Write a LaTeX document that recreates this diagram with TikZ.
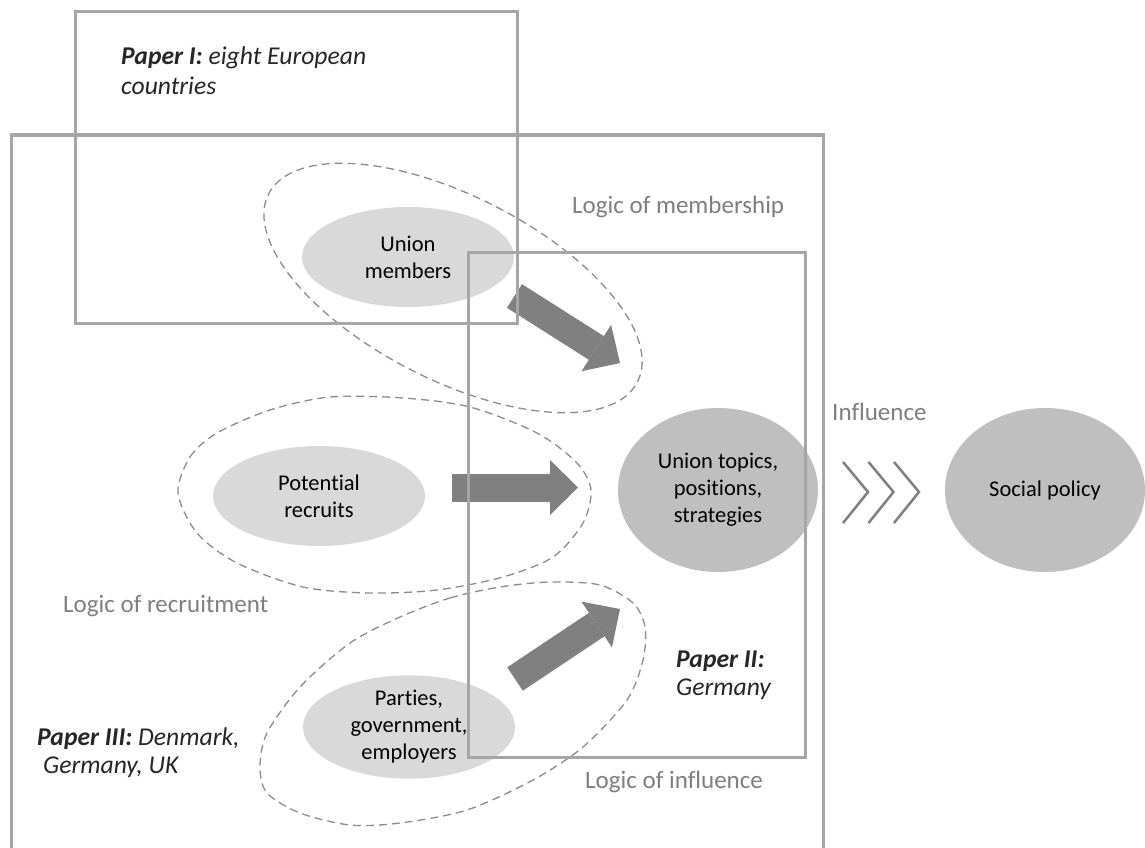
\documentclass[tikz,border=0pt]{standalone}
\usepackage{fontspec}
\setmainfont{Carlito}[Ligatures=NoCommon]
\usetikzlibrary{arrows.meta,shapes.geometric}
\definecolor{boxgray}{HTML}{A6A6A6}
\definecolor{lightfill}{HTML}{D9D9D9}
\definecolor{midfill}{HTML}{BFBFBF}
\definecolor{arrowgray}{HTML}{808080}
\definecolor{labelgray}{HTML}{7F7F7F}
\definecolor{dashgray}{HTML}{8C8C8C}
\definecolor{papertext}{HTML}{262626}
\begin{document}
\begin{tikzpicture}[x=1pt,y=-1pt,
  smallell/.style={ellipse, fill=lightfill, minimum width=212pt, minimum height=100pt, inner sep=0pt, align=center, font=\fontsize{22.5}{27}\selectfont},
  bigell/.style={ellipse, fill=midfill, minimum width=200pt, minimum height=164pt, inner sep=0pt, align=center, font=\fontsize{22.5}{27}\selectfont},
  dashell/.style={ellipse, draw=dashgray, line width=1.3pt, dash pattern=on 8pt off 5pt, inner sep=0pt},
  dashline/.style={draw=dashgray, line width=1.3pt, dash pattern=on 8pt off 5pt},
  paperbox/.style={draw=boxgray, line width=3pt},
  blockarrow/.style={draw=arrowgray, line width=28pt, -{Triangle[length=28pt,width=55pt,line width=0pt]}},
  chevron/.style={draw=arrowgray, line width=2.5pt},
  logiclabel/.style={anchor=base west, inner sep=0pt, text=labelgray, font=\fontsize{25}{30}\selectfont},
  papertxt/.style={anchor=base west, inner sep=0pt, text=papertext, font=\fontsize{25.6}{30}\selectfont\itshape},
]
\useasboundingbox (0,0) rectangle (1145,848);
\fill[white] (0,0) rectangle (1145,848);
\clip (0,0) rectangle (1145,848);

% dashed groupings
\node[dashell, minimum width=414pt, minimum height=184pt, rotate=-27] (memb) at (453,288) {};
\draw[dashline] plot[smooth cycle] coordinates {(178,493) (190,457) (217,433) (270,410) (330,397) (403,398) (470,407) (537,433) (577,463) (591,490) (583,523) (553,557) (503,577) (437,590) (370,593) (303,587) (237,563) (197,533)};
\draw[dashline] plot[smooth cycle] coordinates {(400,617) (450,598) (500,587) (550,582) (600,585) (633,603) (645,627) (643,660) (627,700) (583,747) (533,780) (467,810) (400,823) (350,825) (300,813) (267,793) (260,767) (267,733) (300,687) (350,643)};

% actors
\node[smallell] (members) at (408,257) {Union\\members};
\node[smallell] (recruits) at (319,496) {Potential\\recruits};
\node[smallell] (parties) at (409,727) {Parties,\\government,\\employers};
\node[bigell] (union) at (718,490) {Union topics,\\positions,\\strategies};
\node[bigell] (policy) at (1045,490) {Social policy};

% block arrows
\coordinate (a1s) at (514.5,296);
\coordinate (a1e) at (620,363);
\coordinate (a2s) at (452,487.5);
\coordinate (a2e) at (578,487.5);
\coordinate (a3s) at (515,679);
\coordinate (a3e) at (620,609);
\draw[blockarrow] (a1s) -- (a1e);
\draw[blockarrow] (a2s) -- (a2e);
\draw[blockarrow] (a3s) -- (a3e);

% paper boxes
\draw[paperbox] (75,12) rectangle (517,323);
\draw[paperbox] (11,135) rectangle (823,870);
\draw[paperbox] (468,252) rectangle (805,757);

% chevrons
\foreach \x in {843,868.5,894}
  \draw[chevron] (\x,462) -- (\x+25,492) -- (\x,523);

% labels
\node[logiclabel] (lm) at (572,213) {Logic of membership};
\node[logiclabel] (lr) at (63,612) {Logic of recruitment};
\node[logiclabel] (li) at (585,788) {Logic of influence};
\node[logiclabel] (inf) at (832,420) {Influence};

\node[papertxt] (p1a) at (121,65) {\textbf{Paper I:} eight European};
\node[papertxt] (p1b) at (121,95) {countries};
\node[papertxt] (p2a) at (676,667) {\textbf{Paper II:}};
\node[papertxt] (p2b) at (676,695) {Germany};
\node[papertxt] (p3a) at (37,745) {\textbf{Paper III:} Denmark,};
\node[papertxt] (p3b) at (43,773) {Germany, UK};
\end{tikzpicture}
\end{document}
